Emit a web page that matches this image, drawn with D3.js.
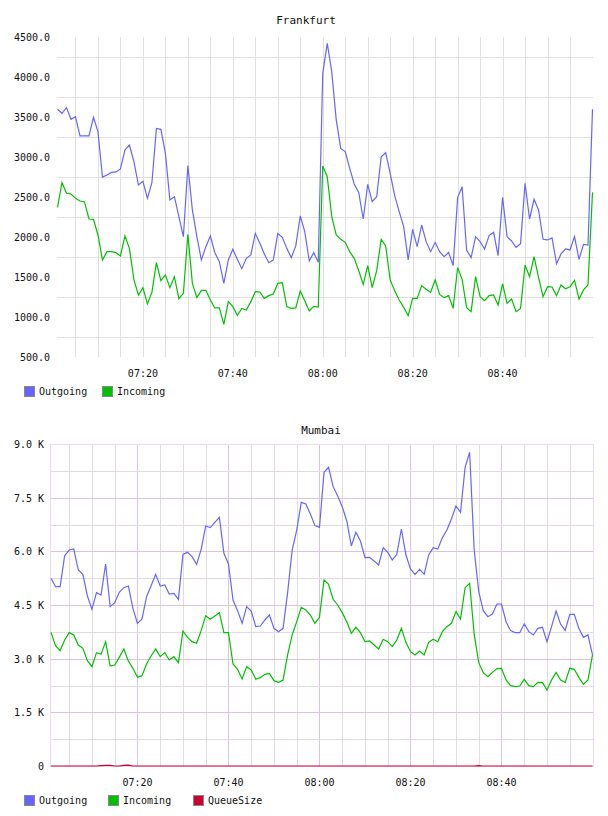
<!DOCTYPE html>
<html>
<head>
<meta charset="utf-8">
<script src="https://cdn.jsdelivr.net/npm/d3@7"></script>
<style>
  body { margin: 0; background: #fff; }
  text { font-family: "DejaVu Sans Mono", monospace; fill: #111; }
</style>
</head>
<body>
<div id="main"></div>
<script>
// one sample per minute, 07:01 .. 09:00
var startTime = new Date(2020, 0, 1, 7, 1);
var tickLabels = ["07:20", "07:40", "08:00", "08:20", "08:40"];

var fraOutgoing = [3596,3546,3617,3471,3504,3263,3263,3263,3496,3317,
  2750,2775,2808,2813,2850,3088,3150,2942,2650,2696,
  2483,2679,3358,3346,3046,2463,2504,2254,2004,2892,
  2338,2004,1713,1879,2013,1804,1692,1421,1713,1846,
  1721,1604,1733,1775,2046,1921,1788,1679,1713,2046,
  1996,1858,1742,1888,2263,2067,1700,1804,1683,4046,
  4421,4067,3463,3108,3067,2858,2663,2558,2225,2658,
  2442,2504,3004,3054,2796,2517,2317,2129,1713,2096,
  1879,2150,1942,1817,1933,1817,1754,1808,1642,2492,
  2629,1838,1742,2004,1942,1850,2017,2058,1767,2496,
  2004,1950,1871,1917,2671,2225,2471,2338,1971,1963,
  1988,1667,1788,1850,1838,2004,1721,1908,1900,3596];

var fraIncoming = [2371,2679,2546,2538,2483,2450,2438,2225,2221,2025,
  1713,1817,1817,1804,1763,2013,1858,1463,1275,1367,
  1163,1308,1679,1454,1525,1367,1504,1229,1296,2033,
  1421,1242,1333,1333,1213,1113,1113,908,1192,1129,
  1021,1108,1088,1192,1317,1313,1233,1267,1288,1421,
  1429,1129,1108,1113,1325,1204,1075,1133,1125,2888,
  2754,2254,2025,1971,1933,1817,1733,1579,1408,1642,
  1367,1579,1971,1888,1463,1329,1213,1121,1017,1233,
  1233,1392,1346,1308,1463,1283,1242,1267,1108,1617,
  1471,1117,1067,1504,1254,1204,1267,1275,1150,1413,
  1171,1225,1067,1108,1650,1504,1754,1496,1254,1379,
  1375,1267,1400,1354,1379,1458,1225,1338,1400,2558];

var mumOutgoing = [5246,5012,5012,5879,6037,6065,5478,5357,4752,4379,
  4845,4780,5646,4454,4565,4854,4985,5031,4407,3988,
  4109,4733,5040,5357,5031,5059,4808,4826,4659,5916,
  5972,5851,5637,6056,6708,6662,6811,6950,5944,5646,
  4640,4342,3988,4454,4332,3895,3913,4081,4221,3848,
  3755,3848,4845,6037,6596,7370,7323,7044,6718,6671,
  8208,8348,7808,7547,7249,6848,6149,6531,6289,5823,
  5832,5730,5618,6103,5972,5758,5916,6624,5898,5506,
  5357,5497,5357,5898,6103,6065,6382,6596,6904,7267,
  7090,8348,8767,6037,4873,4342,4174,4249,4528,4528,
  4034,3783,3727,3727,3969,3755,3662,3848,3876,3475,
  3895,4332,3960,3792,4239,4239,3848,3596,3662,3103];

var mumIncoming = [3736,3364,3224,3522,3727,3662,3382,3289,2944,2777,
  3168,3121,3475,2795,2823,3037,3270,2935,2730,2478,
  2525,2851,3075,3270,3056,3168,2963,3056,2888,3773,
  3596,3475,3429,3783,4202,4100,4193,4286,3727,3727,
  2851,2702,2432,2777,2683,2422,2469,2562,2590,2385,
  2339,2404,3103,3662,4034,4435,4360,4221,3988,4156,
  5199,5078,4659,4500,4286,4034,3708,3876,3727,3475,
  3494,3382,3270,3541,3475,3336,3522,3848,3457,3196,
  3103,3214,3103,3457,3541,3475,3755,3895,3988,4314,
  4109,4984,5106,3680,2888,2609,2497,2618,2721,2730,
  2404,2245,2217,2236,2422,2245,2217,2339,2329,2124,
  2404,2618,2404,2339,2730,2702,2478,2283,2404,3103];

var mumQueue = [0,0,0,0,0,0,0,0,0,0,
  0,10,20,15,0,0,20,25,0,0,
  0,0,0,0,0,0,0,0,0,0,
  0,0,0,0,0,0,0,0,0,0,
  0,0,0,0,0,0,0,0,0,0,
  0,0,0,0,0,0,0,0,0,0,
  0,0,0,0,0,0,0,0,0,0,
  0,0,0,0,0,0,0,0,0,0,
  0,0,0,0,0,0,0,0,0,0,
  0,0,0,0,10,0,0,0,0,0,
  0,0,0,0,0,0,0,0,0,0,
  0,0,0,0,0,0,0,0,0,0];

var fraTicks = [4500, 4000, 3500, 3000, 2500, 2000, 1500, 1000, 500];
var mumTicks = [9000, 7500, 6000, 4500, 3000, 1500, 0];

var colors = { Outgoing: "#6666ff", Incoming: "#00c000", QueueSize: "#cc0033" };

var times = fraOutgoing.map(function(d, i) { return d3.timeMinute.offset(startTime, i); });
var parseHM = function(s) {
  var p = s.split(":");
  return new Date(2020, 0, 1, +p[0], +p[1]);
};
var endTime = times[times.length - 1];

var svg = d3.select("#main").append("svg")
    .attr("width", 608)
    .attr("height", 816);

function drawChart(cfg) {
  var g = svg.append("g");
  var x = d3.scaleTime().domain([startTime, endTime]).range(cfg.xRange);
  var y = d3.scaleLinear().domain(cfg.yDomain).range(cfg.yRange);
  var left = cfg.box[0], right = cfg.box[1], top = cfg.box[2], bottom = cfg.box[3];

  // vertical grid every 5 minutes
  var minor = d3.timeMinute.every(5).range(d3.timeMinute.offset(startTime, 1), endTime);
  g.selectAll(".vgrid").data(minor).enter().append("line")
    .attr("x1", function(d) { return Math.round(x(d)) + 0.5; })
    .attr("x2", function(d) { return Math.round(x(d)) + 0.5; })
    .attr("y1", top).attr("y2", bottom)
    .attr("stroke", function(d) {
      return cfg.major && d.getMinutes() % 20 === 0 ? cfg.majorColor : cfg.minorColor;
    })
    .attr("stroke-width", 1);

  g.selectAll(".hgrid").data(cfg.hGrid).enter().append("line")
    .attr("x1", left).attr("x2", right)
    .attr("y1", function(d) { return Math.round(y(d)) + 0.5; })
    .attr("y2", function(d) { return Math.round(y(d)) + 0.5; })
    .attr("stroke", function(d) {
      return cfg.major && d % 1500 === 0 ? cfg.majorColor : cfg.minorColor;
    });

  if (cfg.border) {
    g.append("rect")
      .attr("x", left + 0.5).attr("y", top + 0.5)
      .attr("width", right - left).attr("height", bottom - top)
      .attr("fill", "none").attr("stroke", cfg.border);
  }

  // y labels
  g.selectAll(".ylab").data(cfg.yTicks).enter().append("text")
    .attr("x", cfg.yLabelX)
    .attr("y", function(d) { return y(d) + 4; })
    .attr("text-anchor", "end")
    .style("font-size", "10px")
    .text(cfg.yFormat);

  // x labels
  g.selectAll(".xlab").data(tickLabels).enter().append("text")
    .attr("x", function(d) { return x(parseHM(d)); })
    .attr("y", cfg.xLabelY)
    .attr("text-anchor", "middle")
    .style("font-size", "10px")
    .text(function(d) { return d; });

  g.append("text")
    .attr("x", cfg.titleX).attr("y", cfg.titleY)
    .attr("text-anchor", "middle")
    .style("font-size", "11px")
    .text(cfg.title);

  var line = d3.line()
    .x(function(d, i) { return x(times[i]); })
    .y(function(d) { return y(d); });

  cfg.series.forEach(function(s) {
    g.append("path")
      .datum(s.values)
      .attr("d", line)
      .attr("fill", "none")
      .attr("stroke", colors[s.name])
      .attr("stroke-width", 1.2);
  });

  // legend
  var lg = g.selectAll(".leg").data(cfg.series).enter().append("g")
    .attr("transform", function(d, i) { return "translate(" + cfg.legendX[i] + "," + cfg.legendY + ")"; });
  lg.append("rect")
    .attr("x", 0.5).attr("y", 0.5).attr("width", 10).attr("height", 10)
    .attr("fill", function(d) { return colors[d.name]; })
    .attr("stroke", "#888");
  lg.append("text")
    .attr("x", 15).attr("y", 9)
    .style("font-size", "10px")
    .text(function(d) { return d.name; });
}

drawChart({
  title: "Frankfurt", titleX: 306, titleY: 24,
  xRange: [57.5, 592.5], yDomain: [500, 4500], yRange: [357, 37],
  box: [57, 593, 37, 357],
  hGrid: [4250, 3750, 3250, 2750, 2250, 1750, 1250, 750],
  minorColor: "#e0e0e0", major: false,
  yTicks: fraTicks, yLabelX: 50, yFormat: d3.format(".1f"),
  xLabelY: 377,
  series: [{ name: "Outgoing", values: fraOutgoing }, { name: "Incoming", values: fraIncoming }],
  legendX: [24, 102], legendY: 386
});

drawChart({
  title: "Mumbai", titleX: 321, titleY: 434,
  xRange: [51, 592.5], yDomain: [0, 9000], yRange: [766, 444],
  box: [50, 593, 444, 766],
  hGrid: [8250, 7500, 6750, 6000, 5250, 4500, 3750, 3000, 2250, 1500, 750],
  minorColor: "#e2dce2", majorColor: "#dcc4dc", major: true,
  border: "#eedcee",
  yTicks: mumTicks, yLabelX: 44,
  yFormat: function(d) { return d === 0 ? "0" : d3.format(".1f")(d / 1000) + " K"; },
  xLabelY: 786,
  series: [{ name: "Outgoing", values: mumOutgoing }, { name: "Incoming", values: mumIncoming },
           { name: "QueueSize", values: mumQueue }],
  legendX: [24, 108, 193], legendY: 795
});
</script>
</body>
</html>
